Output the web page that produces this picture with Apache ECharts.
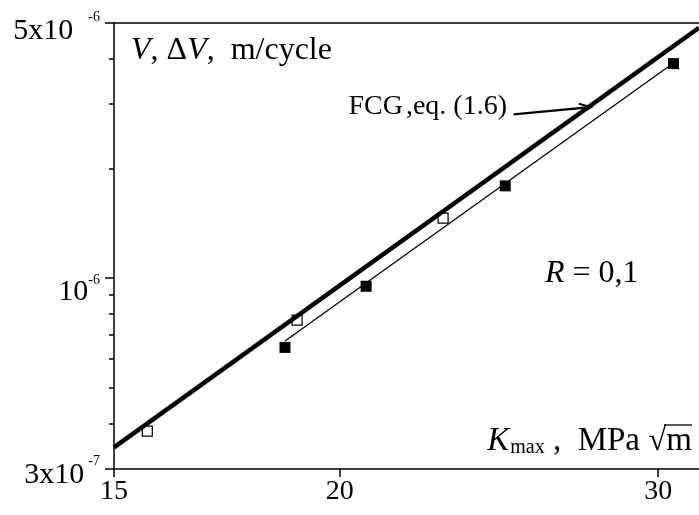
<!DOCTYPE html>
<html><head><meta charset="utf-8">
<script src="https://cdn.jsdelivr.net/npm/echarts@6/dist/echarts.min.js"></script>
<style>html,body{margin:0;padding:0;background:#fff}#c{width:699px;height:515px}</style>
</head><body><div id="c"></div>
<script>
// ---- data ----
const xTicks = [15, 20, 30];
const yMajorTicks = [3e-7, 1e-6, 5e-6];
const yMajorMant = ['3x10', '10', '5x10'];
const yMajorExp = ['-7', '-6', '-6'];
const yMinorTicks = [4e-7, 5e-7, 6e-7, 7e-7, 8e-7, 9e-7, 2e-6, 3e-6, 4e-6];
const xRange = [15, 31.6];
const yRange = [3e-7, 5e-6];
// FCG, eq. (1.6) – thick line
const fcgK = [15, 31.6];
const fcgV = [3.44e-7, 4.85e-6];
// thin fitted line
const fitK = [18.65, 30.44];
const fitV = [6.73e-7, 3.82e-6];
// filled squares
const filledK = [18.65, 20.68, 24.69, 30.59];
const filledV = [6.46e-7, 9.5e-7, 1.79e-6, 3.87e-6];
// open squares
const openK = [15.65, 18.94, 22.81];
const openV = [3.81e-7, 7.67e-7, 1.46e-6];
// arrow annotation (data coords)
const arrowFrom = [24.95, 2.81e-6];
const arrowTo = [27.52, 2.94e-6];

const FONT = 'Liberation Serif';
const zip = (a, b) => a.map((v, i) => [v, b[i]]);

const chart = echarts.init(document.getElementById('c'), null, {renderer: 'canvas'});

function yLabel(v) {
  let idx = 0, best = Infinity;
  yMajorTicks.forEach((t, i) => { const d = Math.abs(Math.log10(v) - Math.log10(t)); if (d < best) { best = d; idx = i; } });
  return '{a' + idx + '|' + yMajorMant[idx] + '}{s' + idx + '|' + yMajorExp[idx] + '}';
}
const mainStyle = p => ({fontFamily: FONT, fontSize: 30, color: '#000', lineHeight: 30, padding: [p, 0, 0, 0]});
const supStyle = (p, gap) => ({fontFamily: FONT, fontSize: 14, color: '#000', verticalAlign: 'top', lineHeight: 14, padding: [p, 0, 0, gap]});

const option = {
  animation: false,
  backgroundColor: '#fff',
  grid: {left: 114, top: 20, right: 0, bottom: 46, containLabel: false},
  xAxis: [{
    type: 'log', min: xRange[0], max: xRange[1], position: 'bottom',
    axisLine: {show: true, lineStyle: {color: '#000', width: 1.5}},
    axisTick: {show: true, customValues: xTicks, length: 8, inside: false, lineStyle: {color: '#000', width: 1.5}},
    minorTick: {show: false},
    splitLine: {show: false},
    axisLabel: {show: true, customValues: xTicks, margin: 9, color: '#000', fontFamily: FONT, fontSize: 28, formatter: v => String(Math.round(v))}
  }, {
    type: 'log', min: xRange[0], max: xRange[1], position: 'top',
    axisLine: {show: true, lineStyle: {color: '#000', width: 1.5}},
    axisTick: {show: false}, axisLabel: {show: false}, splitLine: {show: false}
  }],
  yAxis: [{
    type: 'log', min: yRange[0], max: yRange[1], position: 'left',
    axisLine: {show: true, lineStyle: {color: '#000', width: 1.5}},
    axisTick: {show: true, customValues: yMajorTicks, length: 9, inside: false, lineStyle: {color: '#000', width: 1.5}},
    splitLine: {show: false},
    axisLabel: {
      show: true, customValues: yMajorTicks, margin: 14, formatter: yLabel,
      rich: {
        a0: mainStyle(12), s0: supStyle(0, 4),
        a1: mainStyle(28), s1: supStyle(10, 0),
        a2: mainStyle(16), s2: supStyle(2, 15)
      }
    }
  }, {
    type: 'log', min: yRange[0], max: yRange[1], position: 'left',
    axisLine: {show: false},
    axisTick: {show: true, customValues: yMinorTicks, length: 5, inside: false, lineStyle: {color: '#000', width: 1.5}},
    axisLabel: {show: false}, splitLine: {show: false}
  }],
  series: [
    {type: 'scatter', name: 'open', data: zip(openK, openV), symbol: 'rect', symbolSize: 10, z: 1,
     itemStyle: {color: 'rgba(255,255,255,0)', borderColor: '#000', borderWidth: 1.2, opacity: 1}},
    {type: 'line', name: 'FCG', data: zip(fcgK, fcgV), showSymbol: false, symbol: 'none', z: 3,
     lineStyle: {color: '#000', width: 4.5}},
    {type: 'line', name: 'fit', data: zip(fitK, fitV), showSymbol: false, symbol: 'none', z: 3,
     lineStyle: {color: '#000', width: 1.3}},
    {type: 'scatter', name: 'filled', data: zip(filledK, filledV), symbol: 'rect', symbolSize: 11, z: 4,
     itemStyle: {color: '#000', opacity: 1}}
  ]
};
chart.setOption(option);

const p0 = chart.convertToPixel({xAxisIndex: 0, yAxisIndex: 0}, arrowFrom);
const p1 = chart.convertToPixel({xAxisIndex: 0, yAxisIndex: 0}, arrowTo);
const ang = Math.atan2(p1[1] - p0[1], p1[0] - p0[0]);
const L = 12, A = 0.38;
const h1 = [p1[0] - L * Math.cos(ang - A), p1[1] - L * Math.sin(ang - A)];
const h2 = [p1[0] - L * Math.cos(ang + A), p1[1] - L * Math.sin(ang + A)];

chart.setOption({
  graphic: [
    {type: 'polyline', shape: {points: [p0, p1]}, style: {stroke: '#000', lineWidth: 2.2, fill: null}, z: 10},
    {type: 'polyline', shape: {points: [h1, p1, h2]}, style: {stroke: '#000', lineWidth: 2.2, fill: null}, z: 10},
    {type: 'text', x: 131, y: 51, z: 10, style: {
      text: '{i|V}{n|, }{n|\u0394}{i|V}{n|,  m/cycle}', verticalAlign: 'middle',
      rich: {i: {fontFamily: FONT, fontStyle: 'italic', fontSize: 32, fill: '#000'},
             n: {fontFamily: FONT, fontSize: 32, fill: '#000'}}}},
    {type: 'text', x: 507, y: 107, z: 10, style: {
      text: '{n|FCG}{c|,eq. (1.6)}', align: 'right', verticalAlign: 'middle',
      rich: {n: {fontFamily: FONT, fontSize: 28, fill: '#000'},
             c: {fontFamily: FONT, fontSize: 28, fill: '#000', padding: [0, 0, 0, 3]}}}},
    {type: 'text', x: 545, y: 274, z: 10, style: {
      text: '{i|R}{n| = 0,1}', verticalAlign: 'middle',
      rich: {i: {fontFamily: FONT, fontStyle: 'italic', fontSize: 32, fill: '#000'},
             n: {fontFamily: FONT, fontSize: 32, fill: '#000'}}}},
    {type: 'text', x: 692, y: 441, z: 10, style: {
      text: '{i|K}{sub|max}{n| ,  MPa \u221Am}', align: 'right', verticalAlign: 'middle',
      rich: {i: {fontFamily: FONT, fontStyle: 'italic', fontSize: 33, fill: '#000'},
             sub: {fontFamily: FONT, fontSize: 20, fill: '#000', verticalAlign: 'bottom', padding: [8, 0, 0, 1]},
             n: {fontFamily: FONT, fontSize: 33, fill: '#000'}}}},
    {type: 'line', shape: {x1: 664, y1: 425, x2: 692, y2: 425}, style: {stroke: '#000', lineWidth: 1.3}, z: 10}
  ]
});
</script></body></html>
